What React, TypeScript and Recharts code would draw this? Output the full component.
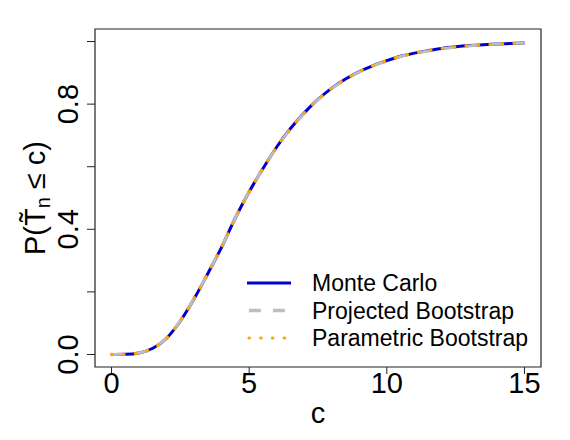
import React from "react";
import { LineChart, Line, XAxis, YAxis, ReferenceArea } from "recharts";

// grid of c values and the three estimated CDFs
const cValues = [
  0, 0.5, 1, 1.5, 2, 2.5, 3, 3.5, 4, 4.5, 5, 5.5, 6, 6.5, 7, 7.5, 8, 8.5, 9,
  9.5, 10, 10.5, 11, 11.5, 12, 12.5, 13, 13.5, 14, 14.5, 15,
];
const monteCarlo = [
  0, 0.0005, 0.005, 0.02, 0.052, 0.107, 0.178, 0.259, 0.343, 0.437, 0.52,
  0.594, 0.663, 0.722, 0.772, 0.815, 0.851, 0.88, 0.904, 0.923, 0.939, 0.953,
  0.963, 0.971, 0.978, 0.983, 0.987, 0.99, 0.992, 0.994, 0.995,
];
const projectedBootstrap = [
  0, 0.0005, 0.005, 0.021, 0.053, 0.108, 0.179, 0.26, 0.344, 0.437, 0.52,
  0.594, 0.662, 0.721, 0.771, 0.814, 0.85, 0.879, 0.903, 0.922, 0.938, 0.952,
  0.962, 0.97, 0.977, 0.982, 0.986, 0.989, 0.992, 0.994, 0.995,
];
const parametricBootstrap = [
  0, 0.0005, 0.005, 0.02, 0.052, 0.107, 0.178, 0.259, 0.343, 0.436, 0.519,
  0.594, 0.663, 0.722, 0.772, 0.815, 0.851, 0.88, 0.904, 0.923, 0.939, 0.953,
  0.963, 0.971, 0.978, 0.983, 0.987, 0.99, 0.992, 0.994, 0.995,
];

const xTicks = [0, 5, 10, 15];
const yTicks = [0, 0.2, 0.4, 0.6, 0.8, 1];
const yLabelTicks = [0, 0.4, 0.8];

const seriesNames = ["Monte Carlo", "Projected Bootstrap", "Parametric Bootstrap"];

const data = cValues.map((c, i) => ({
  c,
  mc: monteCarlo[i],
  pb: projectedBootstrap[i],
  parb: parametricBootstrap[i],
}));

const FONT = "'Liberation Sans', Arial, sans-serif";
const INK = "#222";

const XTick = ({ x, y, payload }: any) => (
  <text x={x} y={y + 17} textAnchor="middle" fontSize={29} fontFamily={FONT} fill="#000">
    {payload.value}
  </text>
);

const YTick = ({ x, y, payload }: any) => {
  const v = payload.value;
  if (!yLabelTicks.some((t) => Math.abs(t - v) < 1e-9)) return <g />;
  const bx = x - 7;
  return (
    <text
      x={bx}
      y={y}
      transform={`rotate(-90 ${bx} ${y})`}
      textAnchor="middle"
      fontSize={29}
      fontFamily={FONT}
      fill="#000"
    >
      {v.toFixed(1)}
    </text>
  );
};

const XTitle = ({ viewBox }: any) => (
  <text
    x={viewBox.x + viewBox.width / 2}
    y={viewBox.y + 56}
    textAnchor="middle"
    fontSize={29}
    fontFamily={FONT}
    fill="#000"
  >
    c
  </text>
);

const YTitle = ({ viewBox }: any) => {
  const bx = 45;
  const cy = viewBox.y + viewBox.height / 2;
  return (
    <text
      x={bx}
      y={cy}
      transform={`rotate(-90 ${bx} ${cy})`}
      textAnchor="middle"
      fontSize={29}
      fontFamily={FONT}
      fill="#000"
    >
      <tspan fontSize={29}>P(T{"\u0303"}</tspan>
      <tspan dy={5} fontSize={20}>n</tspan>
      <tspan dy={-5} fontSize={29}> ≤ c)</tspan>
    </text>
  );
};

const LegendBox = () => (
  <svg width={310} height={90} style={{ display: "block" }}>
    <line x1={7} x2={51} y1={15} y2={15} stroke="#0000CD" strokeWidth={3} />
    <line
      x1={9}
      x2={51}
      y1={42.5}
      y2={42.5}
      stroke="#BEBEBE"
      strokeWidth={3.5}
      strokeDasharray="12 12"
    />
    <line
      x1={9}
      x2={51}
      y1={70}
      y2={70}
      stroke="#FFA500"
      strokeWidth={3.2}
      strokeDasharray="0.5 11.2"
      strokeLinecap="round"
    />
    {seriesNames.map((name, i) => (
      <text key={name} x={72} y={23 + i * 27.5} fontSize={23} fontFamily={FONT} fill="#000">
        {name}
      </text>
    ))}
  </svg>
);

export default function App() {
  return (
    <div style={{ position: "absolute", left: 0, top: 0, width: 570, height: 440, background: "#fff" }}>
      <LineChart
        width={570}
        height={440}
        data={data}
        margin={{ top: 29, right: 29, bottom: 0, left: 0 }}
      >
        <XAxis
          dataKey="c"
          type="number"
          domain={[-0.6, 15.6]}
          ticks={xTicks}
          allowDataOverflow
          axisLine={false}
          tickLine={{ stroke: INK }}
          tickSize={7}
          height={73}
          tick={<XTick />}
          label={<XTitle />}
        />
        <YAxis
          type="number"
          domain={[-0.04, 1.04]}
          ticks={yTicks}
          allowDataOverflow
          axisLine={false}
          tickLine={{ stroke: INK }}
          tickSize={8}
          width={95}
          tick={<YTick />}
          label={<YTitle />}
        />
        <ReferenceArea
          x1={-0.6}
          x2={15.6}
          y1={-0.04}
          y2={1.04}
          fill="none"
          fillOpacity={0}
          stroke={INK}
          strokeWidth={1.2}
          ifOverflow="visible"
        />
        <Line
          dataKey="mc"
          type="monotone"
          stroke="#0000CD"
          strokeWidth={3}
          dot={false}
          activeDot={false}
          isAnimationActive={false}
        />
        <Line
          dataKey="pb"
          type="monotone"
          stroke="#BEBEBE"
          strokeWidth={3}
          strokeDasharray="12 12"
          dot={false}
          activeDot={false}
          isAnimationActive={false}
        />
        <Line
          dataKey="parb"
          type="monotone"
          stroke="#FFA500"
          strokeWidth={3.4}
          strokeDasharray="0.5 11.5"
          strokeLinecap="round"
          dot={false}
          activeDot={false}
          isAnimationActive={false}
        />
      </LineChart>
      <div style={{ position: "absolute", left: 240, top: 268 }}>
        <LegendBox />
      </div>
    </div>
  );
}
